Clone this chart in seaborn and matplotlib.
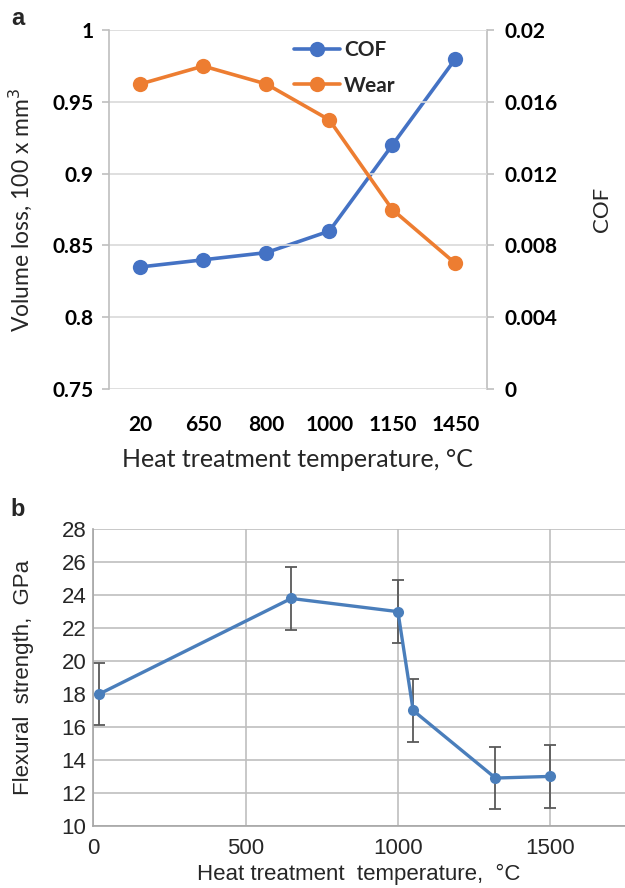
import numpy as np
import pandas as pd
import matplotlib
matplotlib.use("Agg")
import matplotlib.pyplot as plt
import seaborn as sns

# panel a data (categorical temperatures)
temps_a = ["20", "650", "800", "1000", "1150", "1450"]
wear = [0.9625, 0.975, 0.9625, 0.9375, 0.875, 0.8375]
cof = [0.0068, 0.0072, 0.0076, 0.0088, 0.0136, 0.0184]

# panel b data
temps_b = [20, 650, 1000, 1050, 1320, 1500]
strength = [18.0, 23.8, 23.0, 17.0, 12.9, 13.0]
strength_err = [1.9, 1.9, 1.9, 1.9, 1.9, 1.9]

sns.set_theme(style="white")

BLUE = "#4472C4"
ORANGE = "#ED7D31"
GRID = "#D9D9D9"

fig = plt.figure(figsize=(6.25, 8.88), dpi=100)

# ---------------- panel a ----------------
ax = fig.add_axes([0.174, 0.562, 0.605, 0.404])
ax2 = ax.twinx()
pos = np.arange(len(temps_a))
df_a = pd.DataFrame({"pos": pos, "wear": wear, "cof": cof})

sns.lineplot(data=df_a, x="pos", y="wear", ax=ax, color=ORANGE, marker="o",
             markersize=11, markeredgewidth=0, linewidth=2.6, label="Wear", legend=False)
sns.lineplot(data=df_a, x="pos", y="cof", ax=ax2, color=BLUE, marker="o",
             markersize=11, markeredgewidth=0, linewidth=2.6, label="COF", legend=False)

ax.set_xlim(-0.5, len(temps_a) - 0.5)
ax.set_ylim(0.75, 1.0)
ax2.set_ylim(0, 0.02)
ax.set_yticks([0.75, 0.8, 0.85, 0.9, 0.95, 1.0])
ax.set_yticklabels(["0.75", "0.8", "0.85", "0.9", "0.95", "1"])
ax2.set_yticks([0, 0.004, 0.008, 0.012, 0.016, 0.02])
ax2.set_yticklabels(["0", "0.004", "0.008", "0.012", "0.016", "0.02"])
ax.set_xticks(pos)
ax.set_xticklabels(temps_a)

fa = "Lato"
for a in (ax, ax2):
    for lab in a.get_yticklabels() + a.get_xticklabels():
        lab.set_fontfamily(fa)
        lab.set_fontweight("bold")
        lab.set_fontsize(15)
        lab.set_color("black")
    for s in a.spines.values():
        s.set_visible(False)
ax.spines["left"].set_visible(True)
ax.spines["left"].set_color("#BFBFBF")
ax.spines["left"].set_linewidth(1.2)
ax2.spines["right"].set_visible(True)
ax2.spines["right"].set_color("#BFBFBF")
ax2.spines["right"].set_linewidth(1.2)

ax.yaxis.grid(True, color=GRID, linewidth=1.2)
ax.set_axisbelow(True)
ax.tick_params(axis="y", which="major", length=5, width=1.2, color="#BFBFBF", pad=6, left=True)
ax.tick_params(axis="x", length=0, pad=19)
ax2.tick_params(axis="y", which="major", length=5, width=1.2, color="#BFBFBF", pad=8, right=True)
ax.set_zorder(ax2.get_zorder() + 1)
ax.patch.set_visible(False)

ax.set_xlabel("Heat treatment temperature, °C", fontsize=18, fontfamily=fa, labelpad=9)
ax.set_ylabel("Volume loss, 100 x mm$^3$", fontsize=16.5, fontfamily=fa, labelpad=13)
ax2.set_ylabel("COF", fontsize=16, fontfamily=fa, labelpad=24)

h1, l1 = ax2.get_legend_handles_labels()
h2, l2 = ax.get_legend_handles_labels()
leg = ax.legend(h1 + h2, l1 + l2, loc="upper left", bbox_to_anchor=(0.44, 1.025),
                frameon=False, prop={"family": fa, "size": 15},
                handlelength=2.2, labelspacing=0.75, handletextpad=0.2)
for t in leg.get_texts():
    t.set_fontweight("bold")

fig.text(0.029, 0.979, "a", fontsize=17, fontweight="bold", fontfamily="Liberation Sans",
         ha="center", va="center")

# ---------------- panel b ----------------
bx = fig.add_axes([0.149, 0.070, 0.851, 0.334])
df_b = pd.DataFrame({"temp": temps_b, "strength": strength, "err": strength_err})
BLUE_B = "#4A7EBB"
bx.errorbar(df_b["temp"], df_b["strength"], yerr=df_b["err"], fmt="none",
            ecolor="#595959", elinewidth=1.3, capsize=4, capthick=1.3, zorder=2)
sns.lineplot(data=df_b, x="temp", y="strength", ax=bx, color=BLUE_B, marker="o",
             markersize=8, markeredgewidth=0, linewidth=2.4, zorder=3)

bx.set_xlim(0, 1745)
bx.set_ylim(10, 28)
bx.set_xticks([0, 500, 1000, 1500])
bx.set_yticks(np.arange(10, 29, 2))
bx.grid(True, color="#BFBFBF", linewidth=1.2)
bx.set_axisbelow(True)
for s in ["top", "right"]:
    bx.spines[s].set_visible(False)
for s in ["left", "bottom"]:
    bx.spines[s].set_color("#A6A6A6")
    bx.spines[s].set_linewidth(1.2)
fb = "Liberation Sans"
bx.tick_params(axis="x", length=0, pad=9)
bx.tick_params(axis="y", length=0, pad=5)
for lab in bx.get_xticklabels() + bx.get_yticklabels():
    lab.set_fontfamily(fb)
    lab.set_fontsize(16)
bx.set_xlabel("Heat treatment  temperature,  °C", fontsize=16, fontfamily=fb, labelpad=3)
bx.set_ylabel("Flexural  strength,  GPa", fontsize=16, fontfamily=fb, labelpad=20)

fig.text(0.029, 0.426, "b", fontsize=17, fontweight="bold", fontfamily="Liberation Sans",
         ha="center", va="center")

fig.savefig("out.png", dpi=100)
